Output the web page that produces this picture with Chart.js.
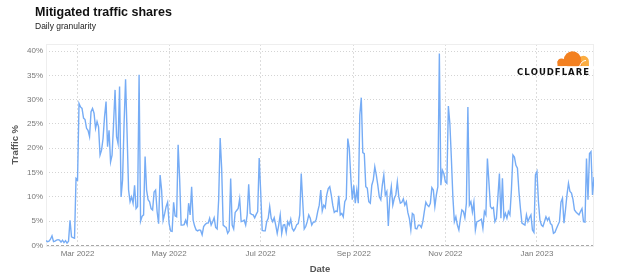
<!DOCTYPE html>
<html><head><meta charset="utf-8">
<script src="https://cdn.jsdelivr.net/npm/chart.js@4.4.1/dist/chart.umd.min.js"></script>
<style>
html,body{margin:0;padding:0;background:#fff;}
#wrap{position:relative;width:624px;height:278px;overflow:hidden;}
#title{position:absolute;left:35px;top:5px;font:bold 12.5px "Liberation Sans",Arial,sans-serif;color:#111;white-space:nowrap;}
#subtitle{position:absolute;left:35px;top:21px;font:8.5px "Liberation Sans",Arial,sans-serif;color:#222;white-space:nowrap;}
canvas{position:absolute;left:0;top:0;}
</style></head><body>
<div id="wrap"><canvas id="c" width="624" height="278"></canvas><div id="title">Mitigated traffic shares</div><div id="subtitle">Daily granularity</div></div>
<script>
// ---- data ----
const START_DATE = '2022-02-08';
const TRAFFIC_PCT = [
1.0,0.8,0.9,1.3,2.0,0.8,0.9,1.1,1.2,1.1,
0.7,1.1,0.6,1.0,0.5,0.9,5.2,1.8,1.6,1.5,
13.8,13.5,29.2,28.5,28.2,26.2,25.9,24.1,23.7,22.4,
27.5,28.2,27.2,24.1,25.5,24.4,18.6,19.6,22.0,26.5,
29.6,20.3,23.7,17.2,18.6,25.1,32.0,22.4,21.0,32.7,
10.0,13.5,25.1,34.2,23.1,11.4,9.0,10.0,8.7,12.4,
7.6,8.0,35.1,5.0,6.0,6.3,18.3,11.4,9.4,9.0,
7.6,7.3,11.0,11.4,7.0,4.5,14.5,11.4,5.2,6.5,
8.0,8.9,4.5,3.0,2.9,8.9,6.1,5.9,20.7,13.8,
4.2,4.2,4.3,5.2,4.3,8.7,6.3,12.1,5.2,4.0,
3.2,3.0,3.2,3.1,2.2,3.9,4.3,4.6,4.6,5.6,
4.2,4.9,5.7,3.7,3.4,9.4,22.1,15.9,4.2,3.9,
3.7,2.5,3.0,13.8,4.2,3.4,6.8,7.2,7.6,9.6,
4.9,5.0,5.2,4.2,6.3,12.6,6.6,6.4,6.3,5.7,
6.4,7.0,18.0,11.0,3.1,3.0,3.0,4.9,5.6,8.0,
5.6,4.9,5.7,4.2,2.5,4.2,6.3,2.5,4.2,4.3,
2.7,4.9,4.2,5.4,3.5,3.0,3.5,4.3,4.5,6.3,
14.8,9.0,3.4,3.9,4.9,6.3,5.6,4.2,4.8,4.8,
5.4,7.0,8.3,11.4,7.1,8.3,7.8,10.4,11.7,12.1,
10.4,8.3,6.8,7.1,7.0,10.2,6.3,6.6,5.9,9.0,
9.6,22.0,20.0,14.1,9.4,12.4,8.7,11.4,8.7,26.8,
30.4,19.1,18.9,12.1,11.8,9.0,8.7,12.4,13.5,16.2,
14.5,12.4,10.0,9.4,12.4,14.5,10.4,11.1,4.0,9.7,
12.1,8.3,9.7,10.4,13.1,10.0,8.7,8.9,9.6,8.3,
9.0,6.8,5.6,3.2,6.6,6.3,3.5,3.4,4.2,4.2,
3.7,4.9,7.0,8.9,8.3,8.0,8.7,11.9,11.4,8.0,
10.4,12.1,39.5,12.4,15.5,14.8,13.1,12.8,28.7,25.1,
17.9,10.0,4.9,5.9,4.2,3.2,5.5,7.3,7.0,5.7,
8.7,28.5,8.3,9.0,6.9,8.9,3.2,4.9,5.0,5.2,
5.4,3.5,7.0,6.3,17.9,13.1,8.0,7.6,7.8,4.9,
5.6,10.0,14.8,5.6,13.8,5.6,6.6,5.6,7.0,6.3,
11.4,18.6,18.2,16.5,15.9,11.1,7.6,4.6,4.4,4.2,
6.3,4.9,5.7,6.3,3.2,2.7,14.5,15.2,9.0,5.2,
4.2,3.9,4.9,5.9,5.2,5.7,4.5,4.2,2.5,2.7,
3.5,4.2,4.9,8.9,9.7,4.6,7.3,10.4,12.8,11.1,
10.8,9.5,7.3,6.9,6.6,6.3,7.0,7.6,4.9,4.8,
17.9,9.4,18.9,19.3,10.4,14.1
];
const X_TICK_DATES = ['2022-03-01','2022-05-01','2022-07-01','2022-09-01','2022-11-01','2023-01-01'];
const X_TICK_LABELS = ['Mar 2022','May 2022','Jul 2022','Sep 2022','Nov 2022','Jan 2023'];
const Y_TICKS = [0,5,10,15,20,25,30,35,40];

// ---- helpers ----
const DAY = 86400000;
const dayIndex = s => Math.round((Date.parse(s) - Date.parse(START_DATE)) / DAY);
const xTickIdx = X_TICK_DATES.map(dayIndex);
const points = TRAFFIC_PCT.map((v, i) => ({x: i, y: v}));

const framePlugin = {
  id: 'frame',
  beforeDatasetsDraw(chart) {
    const {ctx, chartArea: a} = chart;
    ctx.save();
    ctx.strokeStyle = '#eeeeee';
    ctx.lineWidth = 1;
    ctx.strokeRect(Math.round(a.left) + 0.5, Math.round(a.top) + 0.5, Math.round(a.right - a.left) - 1, Math.round(a.bottom - a.top));
    ctx.restore();
  }
};

const logoPlugin = {
  id: 'logo',
  afterDraw(chart) {
    const ctx = chart.ctx;
    ctx.save();
    ctx.fillStyle = '#FBAD41';
    ctx.beginPath();
    ctx.arc(583.5, 61.2, 5.4, Math.PI, 0);
    ctx.lineTo(589, 66.2); ctx.lineTo(577, 66.2); ctx.closePath(); ctx.fill();
    ctx.fillStyle = '#F38020';
    ctx.beginPath();
    ctx.arc(572.5, 59.8, 8.6, 0, Math.PI * 2); ctx.fill();
    ctx.beginPath();
    ctx.arc(561.5, 62.5, 3.9, 0, Math.PI * 2); ctx.fill();
    ctx.fillRect(557.5, 61, 24, 5.2);
    ctx.strokeStyle = '#ffffff';
    ctx.lineWidth = 1;
    ctx.beginPath();
    ctx.moveTo(579.5, 66.5);
    ctx.quadraticCurveTo(581.5, 60.5, 586, 60.5);
    ctx.stroke();
    ctx.fillStyle = '#ffffff';
    ctx.fillRect(550, 66.2, 45, 3);
    const txt = 'CLOUDFLARE';
    ctx.fillStyle = '#111111';
    ctx.font = 'bold 8.5px "DejaVu Sans", "Liberation Sans", sans-serif';
    ctx.textBaseline = 'alphabetic';
    const widths = [...txt].map(c => ctx.measureText(c).width);
    const sum = widths.reduce((a, b) => a + b, 0);
    const gap = (72 - sum) / (txt.length - 1);
    let x = 517;
    [...txt].forEach((c, i) => { ctx.fillText(c, x, 75); x += widths[i] + gap; });
    ctx.restore();
  }
};

new Chart(document.getElementById('c'), {
  type: 'line',
  data: {
    datasets: [{
      data: points,
      borderColor: '#76acf5',
      borderWidth: 1.4,
      pointRadius: 0,
      pointHoverRadius: 0,
      tension: 0,
      fill: false
    }]
  },
  options: {
    responsive: false,
    animation: false,
    events: [],
    layout: {padding: {top: 44, right: 30, left: 0, bottom: 0}},
    plugins: {legend: {display: false}, tooltip: {enabled: false}},
    scales: {
      x: {
        type: 'linear',
        min: 0,
        max: TRAFFIC_PCT.length - 1,
        afterBuildTicks: s => { s.ticks = xTickIdx.map(v => ({value: v})); },
        afterFit: s => { s.height = 32.5; },
        ticks: {
          autoSkip: false, maxRotation: 0, padding: 3,
          color: '#777', font: {family: '"Liberation Sans", Arial, sans-serif', size: 8},
          callback: v => X_TICK_LABELS[xTickIdx.indexOf(v)]
        },
        grid: {color: '#dddddd', lineWidth: 1, drawTicks: false},
        border: {display: false, dash: [2, 2]},
        title: {display: true, text: 'Date', color: '#555', padding: {top: 0, bottom: 3},
          font: {family: '"Liberation Sans", Arial, sans-serif', size: 9.5, weight: 'bold'}}
      },
      y: {
        min: 0,
        max: 41.44,
        afterBuildTicks: s => { s.ticks = Y_TICKS.map(v => ({value: v})); },
        afterFit: s => { s.width = 46; },
        ticks: {
          padding: 3, color: '#777',
          font: {family: '"Liberation Sans", Arial, sans-serif', size: 8},
          callback: v => v + '%'
        },
        grid: {
          drawTicks: false, lineWidth: 1,
          color: c => (c.tick && c.tick.value === 0) ? '#a8a8a8' : '#d4d4d4'
        },
        border: {
          display: false,
          dash: c => (c.tick && c.tick.value === 0) ? [3, 2] : [1, 2]
        },
        title: {display: true, text: 'Traffic %', color: '#555', padding: {top: 10, bottom: 0},
          font: {family: '"Liberation Sans", Arial, sans-serif', size: 9.5, weight: 'bold'}}
      }
    }
  },
  plugins: [framePlugin, logoPlugin]
});
</script>
</body></html>
